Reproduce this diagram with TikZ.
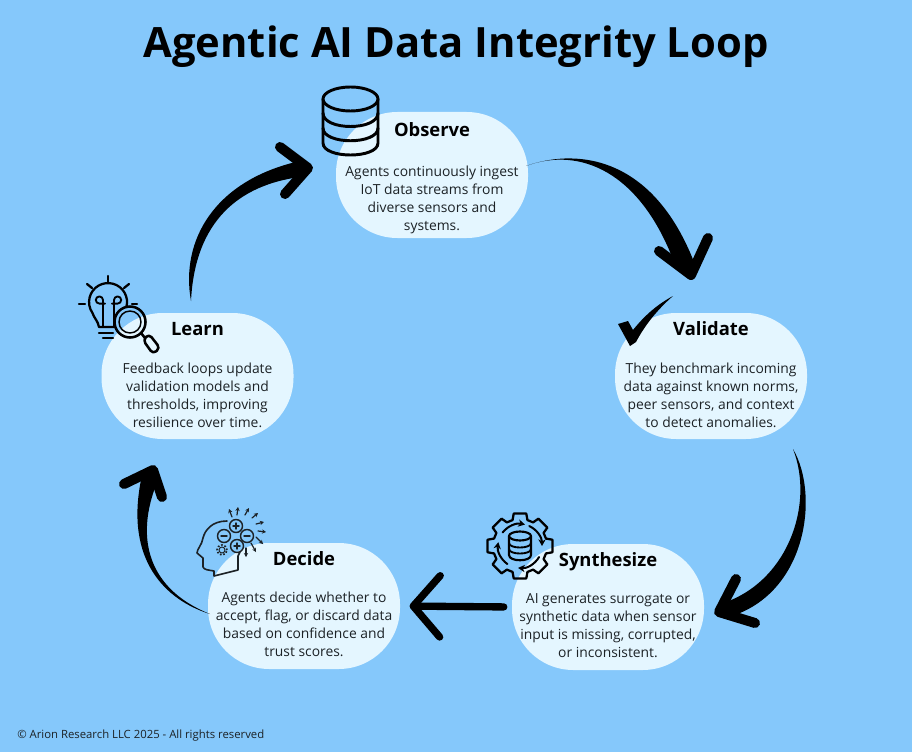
\documentclass[tikz,border=0pt]{standalone}
\usepackage{fontspec}
\setmainfont{Open Sans}
\usetikzlibrary{arrows.meta, positioning, calc}
\definecolor{LoopSky}{HTML}{85C8FB}
\definecolor{LoopIce}{HTML}{E4F6FF}
\definecolor{LoopInk}{HTML}{1C2226}
\tikzset{
    % Rounded step box
    blob/.style={
        rectangle,
        fill=LoopIce,
        rounded corners=46pt,
        minimum width=144pt,
        minimum height=94.5pt,
        inner sep=0pt
    },
    % Step heading
    blobtitle/.style={
        font=\fontsize{13.8}{16}\bfseries\selectfont,
        text=black,
        inner sep=0pt,
        text height=10pt,
        text depth=3pt
    },
    % Step description
    blobtext/.style={
        font=\fontsize{10.4}{13.5}\selectfont,
        text=LoopInk,
        align=center,
        inner sep=0pt
    },
    % Tapered arrow body
    taper/.style={fill=black, draw=none},
    % Arrow head
    arrowhead/.style={draw=black, line width=7.5pt, line cap=round, line join=round},
    % Straight arrow
    arrow/.style={
        -{Straight Barb[length=20pt, width=46pt, round]},
        line width=5.5pt,
        line cap=round,
        color=black
    },
    % Line art
    icon/.style={draw=black, line width=2.2pt, line cap=round, line join=round},
    thinicon/.style={draw=LoopInk, line width=1.2pt, line cap=round, line join=round}
}
\begin{document}
\begin{tikzpicture}[x=0.75pt, y=0.75pt]
    \fill[LoopSky] (0,0) rectangle (912,-752);
    \useasboundingbox (0,0) rectangle (912,-752);

    \node (title) [font=\fontsize{31.3}{36}\bfseries\selectfont, text=black, inner sep=0pt] at (456,-47) {Agentic AI Data Integrity Loop};
    \node (copyright) [font=\fontsize{8.5}{10}\selectfont, text=LoopInk, inner sep=0pt, anchor=west] at (17,-736) {© Arion Research LLC 2025 - All rights reserved};

    % Steps
    \node (observe) [blob] at (432,-175) {};
    \node (validate) [blob] at (711,-376) {};
    \node (synthesize) [blob] at (608,-607) {};
    \node (decide) [blob] at (304,-606) {};
    \node (learn) [blob] at (197.5,-376) {};

    \node (observetitle) [blobtitle, below=8.5pt of observe.north] {Observe};
    \foreach \step/\label in {validate/Validate, synthesize/Synthesize, decide/Decide, learn/Learn}
        \node (\step title) [blobtitle, below=7pt of \step.north] {\label};

    \node (observetext) [blobtext, below=40.5pt of observe.north] {Agents continuously ingest\\IoT data streams from\\diverse sensors and\\systems.};
    \node (validatetext) [blobtext, below=37.5pt of validate.north] {They benchmark incoming\\data against known norms,\\peer sensors, and context\\to detect anomalies.};
    \node (synthesizetext) [blobtext, below=37.5pt of synthesize.north] {AI generates surrogate or\\synthetic data when sensor\\input is missing, corrupted,\\or inconsistent.};
    \node (decidetext) [blobtext, below=36.75pt of decide.north] {Agents decide whether to\\accept, flag, or discard data\\based on confidence and\\trust scores.};
    \node (learntext) [blobtext, below=37.5pt of learn.north] {Feedback loops update\\validation models and\\thresholds, improving\\resilience over time.};

    % Loop arrows
    \coordinate (obstail) at (526,-166);
    \coordinate (valtip) at (691,-275);
    \fill[taper] (obstail) .. controls (570,-150) and (650,-150) .. (694,-262) -- (valtip) -- (674,-262) .. controls (640,-172) and (580,-146) .. (obstail);
    \draw[arrowhead] (659,-251) -- (valtip) -- (708,-238);

    \coordinate (valtail) at (793,-449);
    \coordinate (syntip) at (719,-612);
    \fill[taper] (valtail) .. controls (820,-495) and (807,-597) .. (725,-618) -- (syntip) -- (720,-604) .. controls (787,-584) and (815,-505) .. (valtail);
    \draw[arrowhead] (736,-579) -- (syntip) -- (755,-623);

    \draw[arrow, shorten >=7pt, shorten <=6pt] (synthesize.west) -- (decide.east);

    \coordinate (dectail) at (210,-614);
    \coordinate (learntip) at (153,-470);
    \fill[taper] (dectail) .. controls (165,-600) and (125,-560) .. (141,-480) -- (learntip) -- (158,-480) .. controls (133,-540) and (150,-590) .. (dectail);
    \draw[arrowhead] (124,-484) -- (learntip) -- (162,-497);

    \coordinate (learntail) at (191,-301);
    \coordinate (obstip) at (308,-168);
    \fill[taper] (learntail) .. controls (180,-240) and (215,-180) .. (300,-161) -- (obstip) -- (300,-177) .. controls (240,-185) and (195,-220) .. (learntail);
    \draw[arrowhead] (280,-147) -- (obstip) -- (285,-194);

    % Database icon
    \draw[icon] (323,-99) -- (323,-143) .. controls (323,-159) and (378,-159) .. (378,-143) -- (378,-99);
    \draw[icon] (350.5,-99) ellipse (27.5 and 12);
    \draw[icon] (323,-113) .. controls (323,-131) and (378,-131) .. (378,-113);
    \draw[icon] (323,-128) .. controls (323,-145) and (378,-145) .. (378,-128);

    % Check icon
    \fill[black] (618,-324) -- (628,-321) -- (633,-330) .. controls (645,-315) and (658,-304) .. (673,-296) .. controls (657,-310) and (645,-325) .. (636,-342) -- (630,-346) -- cycle;

    % Bulb icon
    \draw[icon, line width=1.7pt] (126.4,-307) arc (-15:215:19) .. controls (94,-318) and (98,-321) .. (99,-327) -- (114,-327);
    \draw[icon, line width=1.7pt] (99,-333) -- (113,-333) (103,-338) -- (113,-338);
    \draw[icon, line width=1.4pt] (103,-327) -- (103,-300) arc (0:270:3.6) -- (105,-303.6) (114,-327) -- (114,-300) arc (180:-90:3.6) -- (112,-303.6);
    \foreach \a/\b/\c/\d in {108/276/108/282, 87/284/92/288, 129/284/124/288, 79/304/85/304, 132/304/137/304}
        \draw[icon, line width=1.7pt] (\a,-\b) -- (\c,-\d);
    \draw[icon, line width=1.9pt] (130,-322) circle (15.5);
    \draw[icon, line width=1.1pt] (130,-322) circle (11);
    \draw[icon, line width=1.9pt] (141,-333) -- (145,-338);
    \draw[icon, line width=1.9pt, rounded corners=3pt] (143,-340) -- (149,-334) -- (160,-348) -- (153,-354) -- cycle;

    % Head icon
    \draw[thinicon] (227,-521) .. controls (212,-521) and (205,-530) .. (203,-538) .. controls (202,-545) and (197,-549) .. (197,-553) -- (203,-558) -- (203,-567) .. controls (204,-570) and (209,-570) .. (214,-571) -- (214,-576) -- (238,-570) -- (238,-556) -- (240,-552);
    \foreach \cx/\cy in {236/526, 224/536, 247/536, 237/546}
        \draw[thinicon, line width=1.1pt, fill=none] (\cx,-\cy) circle (6.5);
    \foreach \cx/\cy in {236/526, 237/546}
        \draw[thinicon, line width=1.1pt] (\cx-3,-\cy) -- (\cx+3,-\cy) (\cx,-\cy-3) -- (\cx,-\cy+3);
    \foreach \cx/\cy in {224/536, 247/536}
        \draw[thinicon, line width=1.1pt] (\cx-3,-\cy) -- (\cx+3,-\cy);
    \draw[thinicon, line width=0.7pt] (222,-550) circle (3);
    \draw[thinicon, line width=1.3pt, dash pattern=on 1.2pt off 1.4pt, line cap=butt] (222,-550) circle (5);
    \foreach \a/\b/\c/\d in {232/517/229/509, 237/515/238/507, 245/515/249/508, 252/518/258/513, 256/524/264/522, 258/531/266/532, 256/537/263/544, 251/543/256/552, 246/548/246/557}
        \draw[thinicon, line width=0.9pt, -{Stealth[length=3pt, width=3.2pt]}] (\a,-\b) -- (\c,-\d);

    % Gear icon
    \coordinate (gearhub) at (520,-546);
    \draw[icon, line width=1.7pt, shift={(gearhub)}] \foreach \t in {0,45,...,315} { (\t-11:33) -- (\t+11:33) -- (\t+16:27) -- (\t+29:27) -- (\t+34:33) };
    \foreach \t in {77,0,-95,170}
        \draw[icon, line width=1.5pt, -{Stealth[length=5pt, width=5.5pt]}] ($(gearhub)+(\t+65:22)$) arc (\t+65:\t:22);
    \draw[icon, line width=1.6pt] (509,-536) -- (509,-555) .. controls (509,-562) and (531,-562) .. (531,-555) -- (531,-536);
    \draw[icon, line width=1.6pt] (520,-536) ellipse (11 and 4.5);
    \draw[icon, line width=1.4pt] (509,-543) .. controls (509,-549) and (531,-549) .. (531,-543);
    \draw[icon, line width=1.4pt] (509,-549) .. controls (509,-555) and (531,-555) .. (531,-549);
\end{tikzpicture}
\end{document}
